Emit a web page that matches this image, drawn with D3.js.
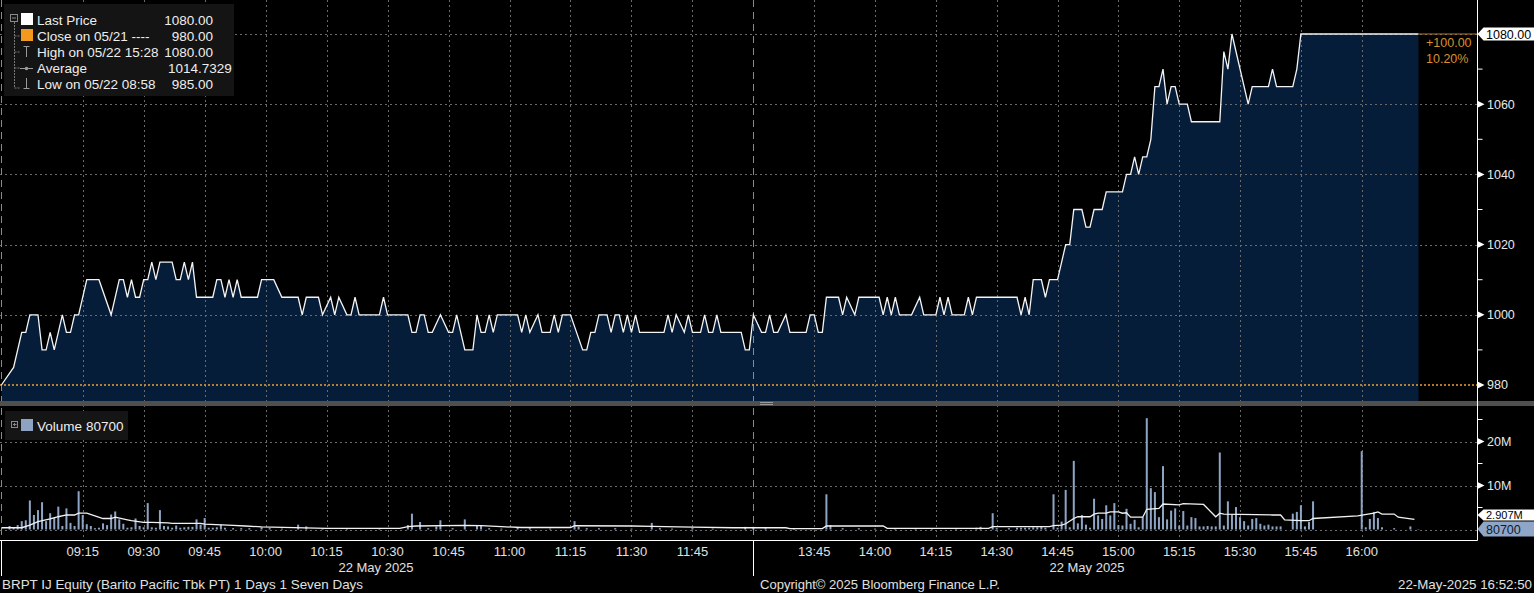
<!DOCTYPE html>
<html><head><meta charset="utf-8">
<script src="https://cdn.jsdelivr.net/npm/d3@7"></script>
<style>
html,body{margin:0;padding:0;background:#000;overflow:hidden}
svg{display:block;font-family:"Liberation Sans",Arial,sans-serif}
</style></head><body>
<svg id="c" width="1534" height="593"></svg>
<script>
// ---------------- DATA ----------------
const priceTimes = ["08:55","08:58","09:00","09:01","09:02","09:04","09:05","09:06","09:07","09:08","09:10","09:11","09:12","09:13","09:14","09:16","09:19","09:22","09:24","09:25","09:26","09:27","09:28","09:29","09:30","09:31","09:32","09:33","09:34","09:37","09:38","09:39","09:40","09:41","09:42","09:43","09:47","09:48","09:49","09:50","09:51","09:52","09:53","09:54","09:58","09:59","10:02","10:04","10:08","10:09","10:10","10:13","10:14","10:16","10:17","10:18","10:20","10:21","10:22","10:23","10:28","10:29","10:30","10:35","10:36","10:37","10:38","10:39","10:40","10:41","10:43","10:45","10:46","10:47","10:49","10:51","10:52","10:53","10:54","10:55","10:56","10:57","11:02","11:03","11:04","11:05","11:07","11:08","11:10","11:11","11:12","11:13","11:15","11:18","11:19","11:20","11:21","11:22","11:24","11:25","11:26","11:27","11:28","11:29","11:30","11:31","11:32","11:38","11:39","11:40","11:41","11:43","11:44","11:45","11:47","11:48","11:49","11:50","11:51","11:52","11:57","11:58","11:59",
"13:30","13:32","13:33","13:34","13:35","13:36","13:38","13:39","13:43","13:44","13:45","13:46","13:47","13:48","13:51","13:52","13:53","13:55","13:56","14:01","14:02","14:03","14:04","14:05","14:06","14:09","14:11","14:12","14:15","14:16","14:17","14:18","14:19","14:22","14:23","14:24","14:25","14:35","14:36","14:37","14:38","14:39","14:41","14:42","14:43","14:45","14:47","14:48","14:49","14:51","14:52","14:53","14:54","14:56","14:57","15:01","15:02","15:03","15:04","15:05","15:06","15:07","15:08","15:09","15:10","15:11","15:12","15:13","15:14","15:15","15:17","15:18","15:25","15:26","15:27","15:28","15:32","15:33","15:37","15:38","15:39","15:43","15:44","15:45","16:14"];
const priceValues = [980,985,995,995,1000,1000,990,990,995,990,1000,995,995,1000,1000,1010,1010,1000,1010,1010,1005,1010,1005,1005,1010,1010,1015,1010,1015,1015,1010,1010,1015,1010,1015,1005,1005,1010,1010,1005,1010,1005,1010,1005,1005,1010,1010,1005,1005,1000,1005,1005,1000,1005,1000,1005,1000,1000,1005,1000,1000,1005,1000,1000,995,995,1000,1000,995,995,1000,995,995,1000,990,990,1000,995,995,1000,995,1000,1000,995,1000,995,1000,995,995,1000,995,1000,1000,990,990,995,995,1000,1000,995,1000,1000,995,1000,995,1000,995,995,1000,995,1000,995,1000,995,995,1000,995,995,1000,995,995,990,990,
1000,995,995,1000,995,995,1000,995,995,1000,1000,995,995,1005,1005,1000,1005,1000,1005,1005,1000,1005,1000,1005,1000,1000,1005,1000,1000,1005,1000,1005,1000,1000,1005,1000,1005,1005,1000,1005,1000,1010,1010,1005,1010,1010,1020,1020,1030,1030,1025,1025,1030,1030,1035,1035,1040,1040,1045,1040,1045,1045,1050,1065,1065,1070,1060,1065,1065,1060,1060,1055,1055,1075,1070,1080,1060,1065,1065,1070,1065,1065,1070,1080,1080];

// volume in millions of shares
const volTimes = ["08:57","08:58","08:59","09:00","09:01","09:02","09:03","09:04","09:05","09:06","09:07","09:08","09:09","09:10","09:11","09:12","09:13","09:14","09:15","09:16","09:17","09:18","09:19","09:20","09:21","09:22","09:23","09:24","09:25","09:26","09:27","09:28","09:29","09:30","09:31","09:32","09:33","09:34","09:35","09:36","09:37","09:38","09:39","09:40","09:41","09:42","09:43","09:44","09:45","09:46","09:47","09:48","09:49","09:50","09:52","09:54","09:56","09:59","10:01","10:04","10:08","10:10","10:14","10:20","10:28","10:35","10:36","10:38","10:40","10:42","10:43","10:46","10:49","10:52","10:53","10:55","10:58","11:02","11:05","11:10","11:16","11:17","11:19","11:22","11:26","11:30","11:35","11:37","11:40","11:45","11:50","11:58",
"13:30","13:33","13:40","13:48","13:49","13:52","13:56","14:00","14:05","14:10","14:14","14:20","14:25","14:26","14:29","14:30","14:33","14:35","14:36","14:37","14:38","14:39","14:40","14:41","14:42","14:44","14:45","14:46","14:47","14:48","14:49","14:50","14:51","14:52","14:53","14:54","14:55","14:56","14:57","14:58","14:59","15:00","15:01","15:02","15:03","15:04","15:05","15:06","15:07","15:08","15:09","15:10","15:11","15:12","15:13","15:14","15:15","15:16","15:17","15:18","15:19","15:20","15:21","15:22","15:23","15:24","15:25","15:26","15:27","15:28","15:29","15:30","15:31","15:32","15:33","15:34","15:35","15:36","15:37","15:38","15:39","15:40","15:43","15:44","15:45","15:46","15:47","15:48","16:00","16:01","16:02","16:03","16:04","16:05","16:08","16:12","16:14"];
const volValues = [0.8,0.5,1.0,1.9,2.1,6.6,3.3,4.4,6.2,1.9,3.7,2.7,5.2,0.8,4.8,1.5,0.8,8.7,3.3,1.2,0.8,0.3,0.4,1.4,1.0,3.4,4.1,2.3,1.3,0.4,0.5,2.5,0.8,0.5,6.0,0.5,0.4,4.4,0.8,0.7,0.4,0.9,0.4,0.5,0.6,0.6,2.3,1.1,2.6,0.4,0.4,0.5,1.1,0.4,0.3,0.3,0.3,0.5,0.3,0.2,1.1,0.7,0.2,0.2,0.2,1.0,3.6,1.7,0.3,0.7,2.1,0.3,2.3,0.8,1.0,0.3,0.2,0.4,0.3,0.2,1.9,0.6,0.3,0.3,0.3,0.2,1.5,0.3,0.2,0.3,0.2,0.6,
0.6,0.3,0.2,8.0,1.0,0.3,0.3,0.2,0.3,0.2,0.2,0.3,0.4,0.6,3.7,0.3,0.3,0.4,0.4,0.4,0.4,0.5,0.5,0.6,0.4,8.0,0.4,1.8,9.0,0.5,15.6,1.4,3.3,1.1,0.4,7.0,3.2,2.4,5.5,3.2,6.0,1.0,0.9,4.7,1.3,2.2,0.5,2.8,25.3,9.4,8.5,2.8,14.4,2.3,4.3,4.8,0.9,4.2,0.9,2.8,2.6,0.7,0.7,0.8,0.7,0.7,17.5,0.9,6.4,3.4,5.1,2.8,1.9,0.9,2.4,2.6,1.3,0.9,1.1,0.7,0.7,0.7,3.6,4.0,5.5,0.7,1.7,6.4,17.8,0.5,2.4,4.0,2.6,0.5,0.3,0.7,0.0807];

// volume average line (millions)
const avgTimes = ["08:55","09:00","09:02","09:04","09:07","09:09","09:11","09:13","09:14","09:16","09:18","09:20","09:22","09:23","09:26","09:27","09:30","09:32","09:36","09:37","09:44","09:45","09:52","09:55","09:59","10:15","10:33","10:35","10:37","10:49","10:53","10:58","11:03","11:15","11:16","11:30","11:35","11:45","11:55","11:59",
"13:30","13:38","13:39","13:47","13:48","14:02","14:03","14:28","14:29","14:43","14:44","14:46","14:47","14:49","14:50","14:53","14:54","14:55","14:57","14:58","15:00","15:01","15:02","15:03","15:06","15:07","15:10","15:11","15:15","15:16","15:21","15:24","15:25","15:26","15:38","15:40","15:41","15:45","15:47","15:48","15:59","16:03","16:04","16:05","16:08","16:09","16:13"];
const avgValues = [0.4,0.4,1.0,1.8,2.4,2.9,3.3,3.3,3.7,3.7,3.1,2.5,2.5,2.8,2.2,2.0,1.6,1.6,1.5,1.4,1.4,1.2,0.95,0.8,0.6,0.27,0.27,0.64,0.8,0.95,0.87,0.64,0.45,0.45,0.85,0.8,0.7,0.55,0.4,0.4,
0.4,0.4,0.2,0.2,0.8,0.8,0.27,0.27,0.64,0.64,0.87,1.0,1.3,2.5,2.9,2.9,3.5,3.7,3.7,4.0,4.0,3.7,3.8,2.8,2.8,4.6,4.8,5.8,5.6,5.9,5.7,2.9,3.7,3.5,3.3,3.3,2.2,2.0,2.0,2.5,3.1,3.7,4.0,3.5,3.5,2.8,2.3];

const tickLabels1 = ["09:15","09:30","09:45","10:00","10:15","10:30","10:45","11:00","11:15","11:30","11:45"];
const tickLabels2 = ["13:45","14:00","14:15","14:30","14:45","15:00","15:15","15:30","15:45","16:00"];
const priceTicks = [980,1000,1020,1040,1060];
const priceMinor = [990,1010,1030,1050,1070];
const volTicks = [10,20];
const volMinor = [5,15,25];

const lastPrice = 1080, prevClose = 980;

// ---------------- CHART ----------------
const W = 1534, H = 593;
const parseT = s => { const [h, m] = s.split(":").map(Number); return new Date(2025, 4, 22, h, m); };
const x = d3.scaleTime()
  .domain([parseT("08:55"), parseT("12:00"), parseT("13:30"), parseT("16:14")])
  .range([1.4, 753.4, 753.4, 1418.5]);
const yP = d3.scaleLinear().domain([980, 1080]).range([385, 34]);
const yV = d3.scaleLinear().domain([0, 20]).range([529.5, 441.5]);
const axisX = 1477.5, baseY = 540.5, panelBottom = 401;

const price = priceTimes.map((t, i) => ({t: parseT(t), v: priceValues[i]}));
const vols = volTimes.map((t, i) => ({t: parseT(t), v: volValues[i]}));
const avg = avgTimes.map((t, i) => ({t: parseT(t), v: avgValues[i]}));

const svg = d3.select("#c");
svg.append("rect").attr("width", W).attr("height", H).attr("fill", "#000");

// area
svg.append("path").datum(price)
  .attr("d", d3.area().x(d => x(d.t)).y0(panelBottom).y1(d => yP(d.v)))
  .attr("fill", "#061d3a");

const gridCol = "#6a6a6a";
const allTicks = tickLabels1.concat(tickLabels2).map(parseT);
svg.append("g").selectAll("line").data(allTicks).join("line")
  .attr("x1", d => Math.round(x(d)) + 0.5).attr("x2", d => Math.round(x(d)) + 0.5)
  .attr("y1", 0).attr("y2", baseY)
  .attr("stroke", gridCol).attr("stroke-width", 1).attr("stroke-dasharray", "2,3");
svg.append("g").selectAll("line").data([1000, 1020, 1040, 1060, 1080]).join("line")
  .attr("x1", 0).attr("x2", axisX).attr("y1", d => Math.round(yP(d)) + 0.5).attr("y2", d => Math.round(yP(d)) + 0.5)
  .attr("stroke", gridCol).attr("stroke-dasharray", "2,3");
svg.append("g").selectAll("line").data([0, 10, 20]).join("line")
  .attr("x1", 0).attr("x2", axisX).attr("y1", d => Math.round(yV(d)) + 0.5).attr("y2", d => Math.round(yV(d)) + 0.5)
  .attr("stroke", gridCol).attr("stroke-dasharray", "2,3");
svg.append("g").selectAll("line").data([parseT("08:55"), parseT("12:00")]).join("line")
  .attr("x1", d => Math.round(x(d)) + 0.5).attr("x2", d => Math.round(x(d)) + 0.5)
  .attr("y1", 0).attr("y2", baseY).attr("stroke", "#8a8a8a").attr("stroke-dasharray", "7,5");

// previous close line
svg.append("line").attr("x1", 0).attr("x2", axisX).attr("y1", yP(prevClose)).attr("y2", yP(prevClose))
  .attr("stroke", "#f0a030").attr("stroke-width", 1.6).attr("stroke-dasharray", "2,2");

// price line
svg.append("path").datum(price)
  .attr("d", d3.line().x(d => x(d.t)).y(d => yP(d.v)))
  .attr("fill", "none").attr("stroke", "#f4f4f4").attr("stroke-width", 1.3);
svg.append("line").attr("x1", x(price[price.length - 1].t)).attr("x2", axisX)
  .attr("y1", yP(lastPrice)).attr("y2", yP(lastPrice)).attr("stroke", "#b5782e").attr("stroke-width", 1);
svg.append("text").attr("x", 1426).attr("y", 46.5).attr("fill", "#d8902c").attr("font-size", 12.5).text("+100.00");
svg.append("text").attr("x", 1426).attr("y", 62.5).attr("fill", "#d8902c").attr("font-size", 12.5).text("10.20%");

// panel separator
svg.append("rect").attr("x", 0).attr("y", panelBottom).attr("width", W).attr("height", 5).attr("fill", "#4f4f4f");
svg.append("line").attr("x1", 760).attr("x2", 773).attr("y1", 402.5).attr("y2", 402.5).attr("stroke", "#9a9a9a");
svg.append("line").attr("x1", 760).attr("x2", 773).attr("y1", 404.5).attr("y2", 404.5).attr("stroke", "#9a9a9a");

// volume bars
svg.append("g").selectAll("rect").data(vols).join("rect")
  .attr("x", d => x(d.t) - 1).attr("width", 2)
  .attr("y", d => yV(d.v)).attr("height", d => Math.max(0, yV(0) - yV(d.v)))
  .attr("fill", "#8ea4c4");
svg.append("path").datum(avg)
  .attr("d", d3.line().x(d => x(d.t)).y(d => yV(d.v)))
  .attr("fill", "none").attr("stroke", "#f2f2f2").attr("stroke-width", 1.3);

// frame
svg.append("line").attr("x1", 0).attr("x2", axisX).attr("y1", baseY).attr("y2", baseY).attr("stroke", "#fff");
svg.append("line").attr("x1", axisX).attr("x2", axisX).attr("y1", 0).attr("y2", baseY).attr("stroke", "#fff");
svg.append("line").attr("x1", 1.5).attr("x2", 1.5).attr("y1", baseY).attr("y2", 576).attr("stroke", "#fff");
svg.append("line").attr("x1", 753.5).attr("x2", 753.5).attr("y1", baseY).attr("y2", 576).attr("stroke", "#fff");

// right axis
const tri = y => `M${axisX},${y - 3.5}L${axisX + 7},${y}L${axisX},${y + 3.5}Z`;
const gp = svg.append("g");
gp.selectAll("path").data(priceTicks).join("path").attr("d", d => tri(yP(d))).attr("fill", "#fff");
gp.selectAll("text").data(priceTicks).join("text")
  .attr("x", 1487).attr("y", d => yP(d)).attr("dy", "0.35em")
  .attr("fill", "#e8e8e8").attr("font-size", 12.5).text(d => d);
gp.selectAll("line").data(priceMinor).join("line")
  .attr("x1", axisX).attr("x2", axisX + 5).attr("y1", d => yP(d)).attr("y2", d => yP(d)).attr("stroke", "#fff");
const gv = svg.append("g");
gv.selectAll("path").data(volTicks).join("path").attr("d", d => tri(yV(d))).attr("fill", "#fff");
gv.selectAll("text").data(volTicks).join("text")
  .attr("x", 1487).attr("y", d => yV(d)).attr("dy", "0.35em")
  .attr("fill", "#e8e8e8").attr("font-size", 12.5).text(d => d + "M");
gv.selectAll("line").data(volMinor).join("line")
  .attr("x1", axisX).attr("x2", axisX + 5).attr("y1", d => yV(d)).attr("y2", d => yV(d)).attr("stroke", "#fff");

function valueBox(yc, h, fill, txt, txtFill, fs) {
  const y0 = yc - h / 2, y1 = yc + h / 2;
  svg.append("path").attr("d", `M${axisX},${yc}L${axisX + 6},${y0}L${W},${y0}L${W},${y1}L${axisX + 6},${y1}Z`).attr("fill", fill);
  svg.append("text").attr("x", 1486).attr("y", yc).attr("dy", "0.36em").attr("fill", txtFill).attr("font-size", fs).text(txt);
}
valueBox(yP(lastPrice), 13, "#ffffff", "1080.00", "#000", 12.5);
valueBox(515, 11, "#ffffff", "2.907M", "#000", 11);
valueBox(529, 15, "#8fa6c8", "80700", "#0d1a2e", 12.5);

// bottom axis labels
const gx = svg.append("g").attr("font-size", 13).attr("fill", "#e0e0e0").attr("text-anchor", "middle");
gx.selectAll("text").data(tickLabels1.concat(tickLabels2)).join("text")
  .attr("x", d => x(parseT(d))).attr("y", 556).text(d => d);
gx.append("text").attr("x", 376).attr("y", 572).text("22 May 2025");
gx.append("text").attr("x", 1087).attr("y", 572).text("22 May 2025");

// footer
svg.append("text").attr("x", 2).attr("y", 589).attr("font-size", 13.4).attr("fill", "#e0e0e0")
  .attr("textLength", 361).attr("lengthAdjust", "spacingAndGlyphs")
  .text("BRPT IJ Equity (Barito Pacific Tbk PT) 1 Days 1 Seven Days");
svg.append("text").attr("x", 760).attr("y", 589).attr("font-size", 13.4).attr("fill", "#e0e0e0")
  .attr("textLength", 240).attr("lengthAdjust", "spacingAndGlyphs")
  .text("Copyright\u00a9 2025 Bloomberg Finance L.P.");
svg.append("text").attr("x", 1398).attr("y", 589).attr("font-size", 13.4).attr("fill", "#e0e0e0")
  .attr("textLength", 134).attr("lengthAdjust", "spacingAndGlyphs")
  .text("22-May-2025 16:52:50");

// price legend
const lg = svg.append("g");
lg.append("rect").attr("x", 4).attr("y", 4).attr("width", 230).attr("height", 92).attr("fill", "#141414");
lg.append("rect").attr("x", 10.5).attr("y", 14.5).attr("width", 7).attr("height", 7).attr("fill", "none").attr("stroke", "#8a8a8a");
lg.append("line").attr("x1", 12).attr("x2", 16).attr("y1", 18).attr("y2", 18).attr("stroke", "#8a8a8a");
lg.append("path").attr("d", "M14.5,22V88M14.5,36H20M14.5,52H20M14.5,68H20M14.5,88H20")
  .attr("stroke", "#777").attr("stroke-dasharray", "2,1").attr("fill", "none");
lg.append("rect").attr("x", 21).attr("y", 13).attr("width", 12).attr("height", 12).attr("fill", "#fff");
lg.append("rect").attr("x", 21).attr("y", 29).attr("width", 12).attr("height", 12).attr("fill", "#f39a1e");
lg.append("path").attr("d", "M23.5,46.5H29.5M26.5,46.5V57").attr("stroke", "#9a9a9a").attr("fill", "none");
lg.append("path").attr("d", "M20,68.5H33").attr("stroke", "#9a9a9a").attr("fill", "none");
lg.append("circle").attr("cx", 26.5).attr("cy", 68.5).attr("r", 1.8).attr("fill", "#9a9a9a");
lg.append("path").attr("d", "M26.5,78V88.5M23.5,88.5H29.5").attr("stroke", "#9a9a9a").attr("fill", "none");
const legRows = [
  ["Last Price", "1080.00", 24.5],
  ["Close on 05/21 ----", "980.00", 40.5],
  ["High on 05/22 15:28", "1080.00", 56.5],
  ["Average", "", 72.5],
  ["Low on 05/22 08:58", "985.00", 88.5]
];
lg.selectAll("text.l").data(legRows).join("text").attr("class", "l")
  .attr("x", 37).attr("y", d => d[2]).attr("font-size", 13.5).attr("fill", "#eee").text(d => d[0]);
lg.selectAll("text.v").data(legRows.filter(d => d[1])).join("text").attr("class", "v")
  .attr("x", 213).attr("y", d => d[2]).attr("text-anchor", "end").attr("font-size", 13.5).attr("fill", "#eee").text(d => d[1]);
lg.append("text").attr("x", 168).attr("y", 72.5).attr("font-size", 13.5).attr("fill", "#eee").text("1014.7329");

// volume legend
const vl = svg.append("g");
vl.append("rect").attr("x", 5).attr("y", 411).attr("width", 123).attr("height", 29).attr("fill", "#151515");
vl.append("rect").attr("x", 11.5).attr("y", 421.5).attr("width", 6).attr("height", 6).attr("fill", "none").attr("stroke", "#8a8a8a");
vl.append("path").attr("d", "M13,424.5H16.5M14.5,423V426").attr("stroke", "#8a8a8a");
vl.append("rect").attr("x", 21).attr("y", 419).attr("width", 12).attr("height", 12).attr("fill", "#8ea3c2");
vl.append("text").attr("x", 37).attr("y", 431).attr("font-size", 13.5).attr("fill", "#eee").text("Volume");
vl.append("text").attr("x", 86).attr("y", 431).attr("font-size", 13.5).attr("fill", "#eee").text("80700");
</script>
</body></html>
